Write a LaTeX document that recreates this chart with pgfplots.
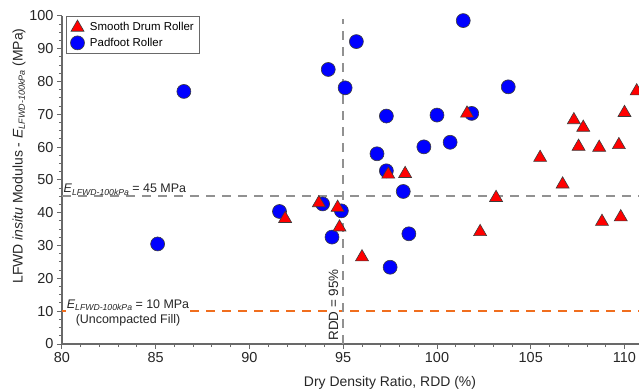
\documentclass[border=0pt]{standalone}
\usepackage{pgfplots}
\pgfplotsset{compat=1.18}
\usepackage{fontspec}
\setmainfont{Liberation Sans}
\definecolor{mred}{RGB}{255,0,0}
\definecolor{mblue}{RGB}{0,0,255}
\definecolor{dgray}{RGB}{145,145,145}
\definecolor{orng}{RGB}{240,110,30}
\definecolor{axgray}{RGB}{105,105,105}
\definecolor{mline}{RGB}{60,60,60}
\newcommand\Elab[1]{\textit{E}\raisebox{-2.2bp}{\fontsize{#1}{#1}\selectfont\itshape LFWD-100kPa}}
\begin{document}
\begin{tikzpicture}
\useasboundingbox (-62bp,-47bp) rectangle (577bp,344bp);
\clip (-62bp,-47bp) rectangle (577bp,344bp);
\begin{axis}[
  at={(0,0)}, anchor=south west,
  scale only axis, width=581.25bp, height=328bp,
  xmin=80, xmax=111, ymin=0, ymax=100,
  axis lines=left, axis line style={-, axgray, line width=1.2bp},
  xtick={80,85,...,110}, ytick={0,10,...,100},
  minor x tick num=4, minor y tick num=3,
  tick align=outside, major tick length=5bp, minor tick length=3bp,
  tick style={axgray, line width=1bp},
  /pgf/number format/assume math mode=true,
  ticklabel style={font=\fontsize{14.5}{16}\selectfont, text=black!85},
  clip=false,
  reverse legend,
  legend cell align=left,
  legend image code/.code={\draw[#1] plot coordinates {(0bp,0bp)};},
  legend style={at={(0,1)}, xshift=4bp, anchor=north west, draw=axgray, line width=1bp,
    font=\fontsize{11.5}{13}\selectfont, inner xsep=4bp, inner ysep=3.5bp, row sep=2bp,
    /tikz/every odd column/.append style={column sep=4bp},
    nodes={inner sep=1.5bp}},
]
\addplot[dgray, line width=2bp, dash pattern=on 9bp off 7bp, forget plot] coordinates {(80,45) (111,45)};
\addplot[orng, line width=2bp, dash pattern=on 9bp off 7bp, forget plot] coordinates {(80,10) (111,10)};
\addplot[dgray, line width=2bp, dash pattern=on 9bp off 7bp, forget plot] coordinates {(95,0) (95,99)};
\addplot[only marks, mark=*, mark size=7bp, mark options={fill=mblue, draw=mline, line width=0.6bp}] coordinates {
(85.1,30.5) (86.5,77.0) (91.6,40.4) (93.9,42.7) (94.2,83.7) (94.4,32.6) (94.9,40.6)
(95.1,78.1) (95.7,92.2) (96.8,58.0) (97.3,69.5) (97.3,52.8) (97.5,23.4) (98.2,46.5)
(98.5,33.6) (99.3,60.1) (100.0,69.8) (100.7,61.5) (101.4,98.6) (101.85,70.3) (103.8,78.4)
};
\addlegendentry{Padfoot Roller}
\addplot[only marks, mark=triangle*, mark size=7.5bp, mark options={fill=mred, draw=mline, line width=0.6bp}] coordinates {
(91.9,38.2) (93.7,43.0) (94.7,41.6) (94.8,35.6) (96.0,26.5) (97.4,51.7) (98.3,51.9)
(101.6,70.3) (102.3,34.2) (103.15,44.6) (105.5,56.8) (106.7,48.7) (107.3,68.3) (107.55,60.2)
(107.8,66.0) (108.65,59.9) (108.8,37.3) (109.7,60.7) (109.8,38.7) (110.0,70.5) (110.65,77.1)
};
\addlegendentry{Smooth Drum Roller}
\end{axis}
\node[anchor=base, font=\fontsize{14}{16}\selectfont, text=black!85] at (328bp,-42bp) {Dry Density Ratio, RDD (\%)};
\node[rotate=90, font=\fontsize{14}{16}\selectfont, text=black!85] at (-43bp,188bp) {LFWD \textit{insitu} Modulus - \Elab{9} (MPa)};
\node[anchor=base west, inner sep=0pt, font=\fontsize{12.5}{15}\selectfont, text=black!85] at (1.5bp,151bp) {\Elab{8.7} = 45 MPa};
\node[align=center, fill=white, inner sep=0.5bp, font=\fontsize{12.5}{15}\selectfont, text=black!85] at (66bp,31.5bp) {\Elab{8.7} = 10 MPa\\(Uncompacted Fill)};
\node[rotate=90, fill=white, inner sep=0.5bp, font=\fontsize{13.5}{15}\selectfont, text=black!85] at (271.5bp,39bp) {RDD = 95\%};
\end{tikzpicture}
\end{document}
